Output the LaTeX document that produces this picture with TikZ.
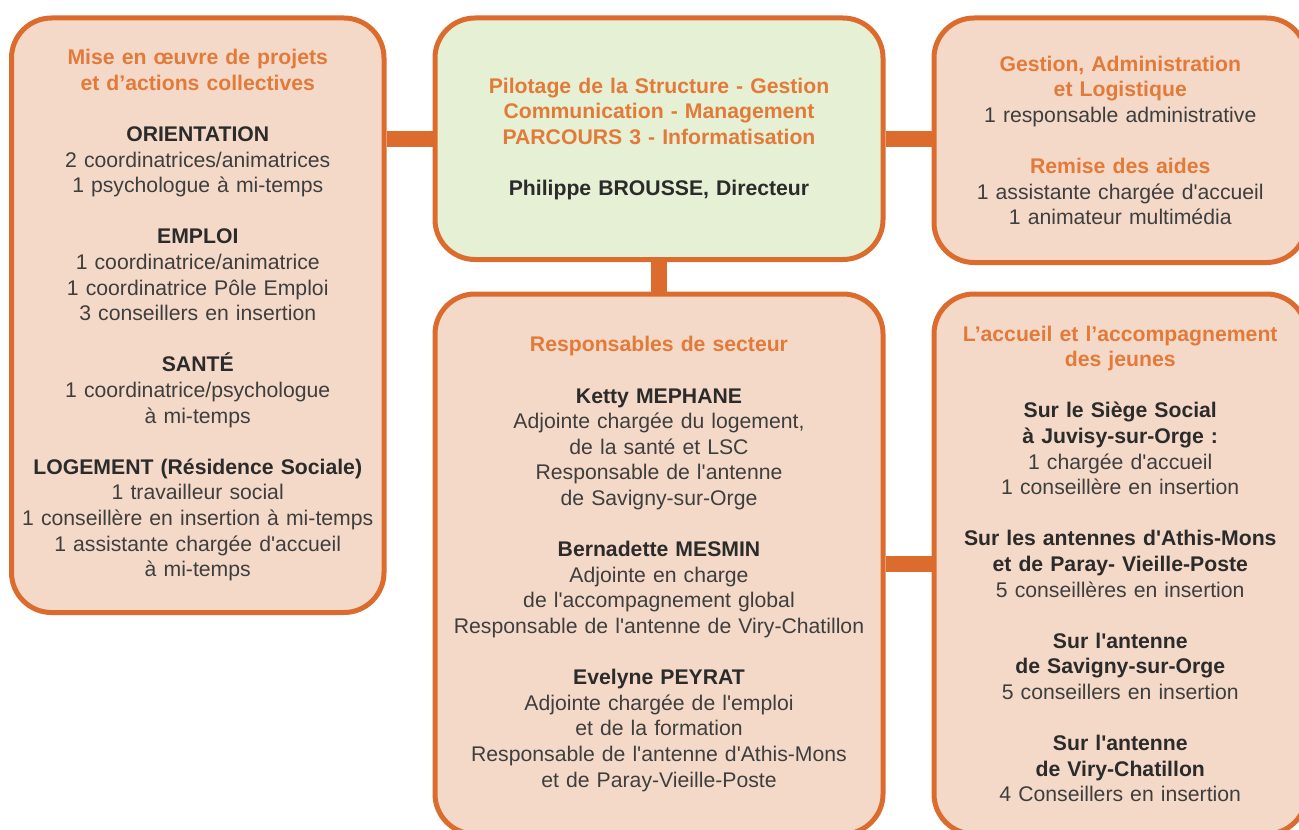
\documentclass[tikz,border=0pt]{standalone}
\usepackage{fontspec}
\setmainfont{Liberation Sans}
\usepackage{tikz}

\definecolor{frame}{HTML}{DC6C2E}
\definecolor{peach}{HTML}{F5D9C8}
\definecolor{palegreen}{HTML}{E6F0D4}
\definecolor{headorange}{HTML}{E27A3A}
\definecolor{namegray}{HTML}{2B2B2B}
\definecolor{bodygray}{HTML}{3E3E3E}

\newcommand{\boxhead}[1]{{\color{headorange}\bfseries #1}}
\newcommand{\boxname}[1]{{\color{namegray}\bfseries #1}}
\newcommand{\sq}{\textquotesingle}

\tikzset{
  unit/.style={draw=frame, line width=2.5pt, rounded corners=20pt, fill=peach, inner sep=0pt,
    align=center, text=bodygray, font=\fontsize{10.6}{12.8}\selectfont},
  link/.style={draw=frame, line width=7.75pt},
}

\begin{document}
\begin{tikzpicture}[x=0.5pt, y=-0.5pt]
        \useasboundingbox (0, 0) rectangle (1299, 829);

        \node (projets) [unit, minimum width=186.25pt, minimum height=297.25pt, text width=180pt] at (197.75, 315.25) {%
          \boxhead{Mise en œuvre de projets\\ et d'actions collectives}\\[12.8pt]
          \boxname{ORIENTATION}\\ 2 coordinatrices/animatrices\\ 1 psychologue à mi-temps\\[12.8pt]
          \boxname{EMPLOI}\\ 1 coordinatrice/animatrice\\ 1 coordinatrice Pôle Emploi\\ 3 conseillers en insertion\\[12.8pt]
          \boxname{SANTÉ}\\ 1 coordinatrice/psychologue\\ à mi-temps\\[12.8pt]
          \boxname{LOGEMENT (Résidence Sociale)}\\ 1 travailleur social\\ 1 conseillère en insertion à mi-temps\\ 1 assistante chargée d\sq accueil\\ à mi-temps};

        \node (pilotage) [unit, fill=palegreen, minimum width=224pt, minimum height=120.75pt, text width=215pt] at (659, 138.75) {%
          \boxhead{Pilotage de la Structure - Gestion\\ Communication - Management\\ PARCOURS 3 - Informatisation}\\[12.8pt]
          \boxname{Philippe BROUSSE, Directeur}};

        \node (gestion) [unit, minimum width=186.25pt, minimum height=122.25pt, text width=180pt] at (1120.25, 140.25) {%
          \boxhead{Gestion, Administration\\ et Logistique}\\ 1 responsable administrative\\[12.8pt]
          \boxhead{Remise des aides}\\ 1 assistante chargée d\sq accueil\\ 1 animateur multimédia};

        \node (secteur) [unit, minimum width=224pt, minimum height=270pt, text width=215pt] at (659, 564) {%
          \boxhead{Responsables de secteur}\\[12.8pt]
          \boxname{Ketty MEPHANE}\\ Adjointe chargée du logement,\\ de la santé et LSC\\ Responsable de l\sq antenne\\ de Savigny-sur-Orge\\[12.8pt]
          \boxname{Bernadette MESMIN}\\ Adjointe en charge\\ de l\sq accompagnement global\\ Responsable de l\sq antenne de Viry-Chatillon\\[12.8pt]
          \boxname{Evelyne PEYRAT}\\ Adjointe chargée de l\sq emploi\\ et de la formation\\ Responsable de l\sq antenne d\sq Athis-Mons\\ et de Paray-Vieille-Poste};

        \node (accueil) [unit, minimum width=186.25pt, minimum height=270pt, text width=180pt] at (1120.25, 564) {%
          \boxhead{L'accueil et l'accompagnement\\ des jeunes}\\[12.8pt]
          \boxname{Sur le Siège Social\\ à Juvisy-sur-Orge :}\\ 1 chargée d\sq accueil\\ 1 conseillère en insertion\\[12.8pt]
          \boxname{Sur les antennes d\sq Athis-Mons\\ et de Paray- Vieille-Poste}\\ 5 conseillères en insertion\\[12.8pt]
          \boxname{Sur l\sq antenne\\ de Savigny-sur-Orge}\\ 5 conseillers en insertion\\[12.8pt]
          \boxname{Sur l\sq antenne\\ de Viry-Chatillon}\\ 4 Conseillers en insertion};

        \draw [link] (pilotage.west) -- (pilotage.west -| projets.east);
        \draw [link] (pilotage.east) -- (pilotage.east -| gestion.west);
        \draw [link] (pilotage.south) -- (secteur.north);
        \draw [link] (secteur.east) -- (accueil.west);
    \end{tikzpicture}
\end{document}
